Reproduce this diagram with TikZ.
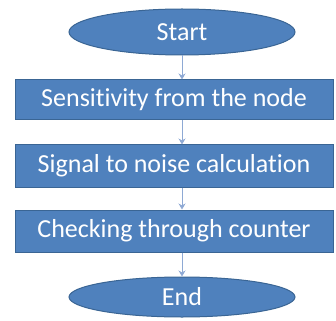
\documentclass[tikz,border=0pt]{standalone}
\usepackage{fontspec}
\setmainfont[Ligatures={NoCommon}]{Carlito}
\usetikzlibrary{shapes.geometric,arrows.meta}
\definecolor{boxfill}{HTML}{4F81BD}
\definecolor{boxline}{HTML}{3A6594}
\definecolor{arrowc}{HTML}{8EA9D4}
\tikzset{
  term/.style={ellipse,draw=boxline,line width=1pt,fill=boxfill,text=white,inner sep=0pt,font=\fontsize{26}{30}\selectfont},
  stepbox/.style={rectangle,draw=boxline,line width=1pt,fill=boxfill,text=white,minimum width=318pt,inner sep=0pt,font=\fontsize{26}{30}\selectfont},
  flow/.style={draw=arrowc,line width=0.9pt,-{Stealth[length=6pt,width=7pt]}}
}
\begin{document}
\begin{tikzpicture}[x=1pt,y=-1pt]
\useasboundingbox (0,0) rectangle (336,320);
\node[term,minimum width=226pt,minimum height=46pt] (start) at (182,32) {Start};
\node[stepbox,minimum height=40pt] (b1) at (174,100) {Sensitivity from the node};
\node[stepbox,minimum height=42pt] (b2) at (174,166) {Signal to noise calculation};
\node[stepbox,minimum height=42pt] (b3) at (174,231) {Checking through counter};
\node[term,minimum width=226pt,minimum height=40pt] (end) at (182,297) {End};
\draw[flow] (start.south) -- (start.south |- b1.north);
\draw[flow] (start.south |- b1.south) -- (start.south |- b2.north);
\draw[flow] (start.south |- b2.south) -- (start.south |- b3.north);
\draw[flow] (start.south |- b3.south) -- (end.north);
\end{tikzpicture}
\end{document}
